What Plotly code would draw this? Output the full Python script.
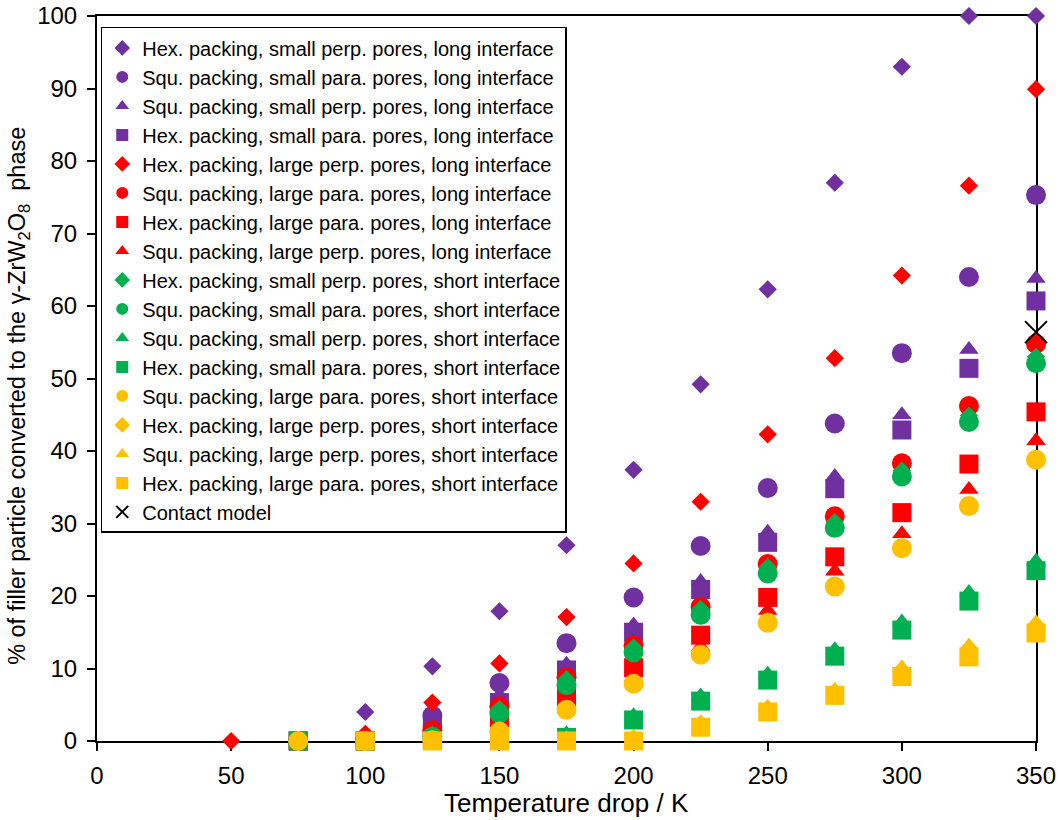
import plotly.graph_objects as go

x = [50, 75, 100, 125, 150, 175, 200, 225, 250, 275, 300, 325, 350]

names = [
    "Hex. packing, small perp. pores, long interface",
    "Squ. packing, small para. pores, long interface",
    "Squ. packing, small perp. pores, long interface",
    "Hex. packing, small para. pores, long interface",
    "Hex. packing, large perp. pores, long interface",
    "Squ. packing, large para. pores, long interface",
    "Hex. packing, large para. pores, long interface",
    "Squ. packing, large perp. pores, long interface",
    "Hex. packing, small perp. pores, short interface",
    "Squ. packing, small para. pores, short interface",
    "Squ. packing, small perp. pores, short interface",
    "Hex. packing, small para. pores, short interface",
    "Squ. packing, large para. pores, short interface",
    "Hex. packing, large perp. pores, short interface",
    "Squ. packing, large perp. pores, short interface",
    "Hex. packing, large para. pores, short interface",
]

N = None
s_purple_diamond = [N, 0, 4.0, 10.3, 17.9, 27.0, 37.4, 49.2, 62.3, 77.0, 93.0, 100, 100]
s_purple_circle = [N, 0, 0.3, 3.5, 8.0, 13.5, 19.8, 26.9, 34.9, 43.8, 53.5, 64.0, 75.3]
s_purple_triangle = [N, 0, 0.1, 2.8, 6.3, 10.6, 16.0, 22.0, 28.8, 36.5, 45.0, 54.0, 63.8]
s_purple_square = [N, 0, 0, 2.2, 5.3, 9.8, 15.0, 20.9, 27.4, 34.8, 42.9, 51.4, 60.7]
s_red_diamond = [0, 0, 1.0, 5.3, 10.7, 17.1, 24.5, 33.0, 42.3, 52.8, 64.2, 76.6, 89.9]
s_red_circle = [N, 0, 0, 1.5, 4.8, 8.8, 13.2, 18.5, 24.4, 31.0, 38.3, 46.2, 54.8]
s_red_square = [N, 0, 0, 0.8, 3.2, 6.1, 10.1, 14.6, 19.8, 25.4, 31.5, 38.2, 45.4]
s_red_triangle = [N, 0, 0, 0.6, 2.6, 5.2, 8.8, 13.0, 18.0, 23.4, 28.6, 34.7, 41.4]
s_green_diamond = [N, 0, 0, 0.9, 4.4, 8.5, 12.9, 18.2, 24.0, 30.2, 37.3, 44.9, 53.0]
s_green_circle = [N, 0, 0, 0.6, 3.8, 7.7, 12.2, 17.4, 23.1, 29.4, 36.5, 44.0, 52.1]
s_green_triangle = [N, 0, 0, 0.2, 0.5, 1.0, 3.5, 6.2, 9.2, 12.6, 16.4, 20.5, 24.8]
s_green_square = [N, 0, 0, 0.1, 0.2, 0.5, 2.9, 5.5, 8.4, 11.7, 15.3, 19.3, 23.5]
s_yellow_circle = [N, 0, 0, 0.1, 1.3, 4.3, 7.9, 11.9, 16.3, 21.3, 26.6, 32.4, 38.8]
s_yellow_diamond = [N, N, 0, 0, 0, 0.2, 0.4, 2.4, 4.5, 6.8, 9.8, 12.8, 16.0]
s_yellow_triangle = [N, N, 0, 0, 0, 0.2, 0.5, 2.5, 4.6, 7.0, 10.1, 13.1, 16.3]
s_yellow_square = [N, N, 0, 0, 0, 0, 0, 1.9, 4.0, 6.3, 8.9, 11.6, 14.9]

contact_x = [350]
contact_y = [56.4]

series = [
    s_purple_diamond, s_purple_circle, s_purple_triangle, s_purple_square,
    s_red_diamond, s_red_circle, s_red_square, s_red_triangle,
    s_green_diamond, s_green_circle, s_green_triangle, s_green_square,
    s_yellow_circle, s_yellow_diamond, s_yellow_triangle, s_yellow_square,
]

PURPLE = "#7030A0"
RED = "#FF0000"
GREEN = "#00B050"
YELLOW = "#FFC000"
colors = [PURPLE] * 4 + [RED] * 4 + [GREEN] * 4 + [YELLOW] * 4
symbols = ["diamond", "circle", "triangle-up", "square",
           "diamond", "circle", "square", "triangle-up",
           "diamond", "circle", "triangle-up", "square",
           "circle", "diamond", "triangle-up", "square"]
sizes = {"diamond": 14, "circle": 20, "triangle-up": 17, "square": 19}

fig = go.Figure()
for name, ys, c, sym in zip(names, series, colors, symbols):
    fig.add_trace(go.Scatter(
        x=x, y=ys, mode="markers", name=name, cliponaxis=False,
        marker=dict(symbol=sym, color=c, size=sizes[sym], line=dict(width=0)),
    ))

fig.add_trace(go.Scatter(
    x=contact_x, y=contact_y, mode="markers", name="Contact model", cliponaxis=False,
    marker=dict(symbol="x-thin", size=22, color="black", line=dict(width=2, color="black")),
))

FONT = "Liberation Sans, Arial, sans-serif"
fig.update_layout(
    width=1063, height=820,
    margin=dict(l=97, r=27, t=16, b=79, autoexpand=False),
    paper_bgcolor="white", plot_bgcolor="white",
    font=dict(family=FONT, color="black", size=24),
    showlegend=True,
    legend=dict(
        x=0.004, y=0.985, xanchor="left", yanchor="top",
        bgcolor="white", bordercolor="black", borderwidth=1.5,
        font=dict(size=20, family=FONT),
        tracegroupgap=0, itemsizing="constant",
    ),
    annotations=[
        dict(text="Temperature drop / K", xref="paper", yref="paper",
             x=0.5, y=-0.0855, xanchor="center", yanchor="middle",
             showarrow=False, font=dict(size=26, family=FONT)),
        dict(text="% of filler particle converted to the γ-ZrW<sub>2</sub>O<sub>8</sub>  phase",
             xref="paper", yref="paper", x=-0.0831, y=0.476,
             xanchor="center", yanchor="middle", textangle=-90,
             showarrow=False, font=dict(size=23.5, family=FONT)),
    ],
)
fig.update_xaxes(
    range=[0, 350], dtick=50, tick0=0, showgrid=False, zeroline=False,
    showline=True, linecolor="black", linewidth=2, mirror=True,
    ticks="outside", ticklen=8, tickwidth=2, tickcolor="black",
    tickfont=dict(size=24), layer="below traces", automargin=False,
    ticklabelstandoff=4, ticklabeloverflow="allow",
)
fig.update_yaxes(
    range=[0, 100], dtick=10, tick0=0, showgrid=False, zeroline=False,
    showline=True, linecolor="black", linewidth=2, mirror=True,
    ticks="outside", ticklen=8, tickwidth=2, tickcolor="black",
    tickfont=dict(size=24), layer="below traces", automargin=False,
    ticklabelstandoff=5, ticklabeloverflow="allow",
)

fig.write_html(
    "out.html",
    config={"displayModeBar": False},
    post_script="document.body.style.margin='0';document.body.style.padding='0';",
)
